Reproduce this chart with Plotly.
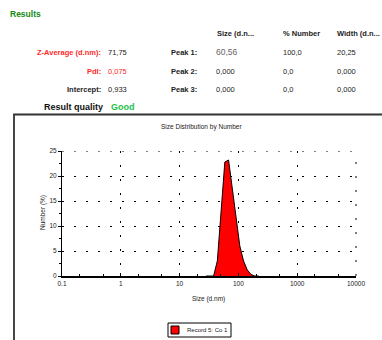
import plotly.graph_objects as go

# ---- data ----
sizes = [28.21, 32.67, 37.84, 43.82, 50.75, 58.77, 68.06, 78.82, 91.28, 105.7, 122.4, 141.8, 164.2, 190.1, 220.2]
number_pct = [0, 0, 0, 3.0, 12.5, 22.8, 23.2, 17.5, 11.0, 6.0, 3.0, 1.2, 0.3, 0, 0]
series_name = "Record 5: Co 1"
x_tickvals = [0.1, 1, 10, 100, 1000, 10000]
x_ticktext = ["0.1", "1", "10", "100", "1000", "10000"]
y_tickvals = [0, 5, 10, 15, 20, 25]

summary_left = [("Z-Average (d.nm):", "71,75", "#ff2a2a", "#222"),
                ("PdI:", "0,075", "#ff2a2a", "#ff2a2a"),
                ("Intercept:", "0,933", "#222", "#222")]
peak_labels = ["Peak 1:", "Peak 2:", "Peak 3:"]
peak_size = ["60,56", "0,000", "0,000"]
peak_number = ["100,0", "0,0", "0,0"]
peak_width = ["20,25", "0,000", "0,000"]
col_headers = ["Size (d.n...", "% Number", "Width (d.n..."]

# ---- geometry helpers (pixel -> paper) ----
W, H = 382, 340
PL, PR, PT, PB = 62, 356, 151, 276
PW, PH = PR - PL, PB - PT
def px(x): return (x - PL) / PW
def py(y): return (PB - y) / PH

FONT = "Liberation Sans, Arial, sans-serif"

fig = go.Figure()
fig.add_trace(go.Scatter(
    x=sizes, y=number_pct, mode="lines", name=series_name,
    fill="tozeroy", fillcolor="#ff0000",
    line=dict(color="#000000", width=1), showlegend=False,
))

ann = []
def text(x, y, s, size=7, color="#222", bold=False, anchor="left", yanchor="middle", angle=0):
    ann.append(dict(x=px(x), y=py(y), xref="paper", yref="paper", text=f"<b>{s}</b>" if bold else s,
                    showarrow=False, xanchor=anchor, yanchor=yanchor, textangle=angle,
                    font=dict(family=FONT, size=size, color=color)))

text(8, 14, "Results", size=8.5, color="#128a12", bold=True)
hx = [215, 281, 335]
for h, x in zip(col_headers, hx):
    text(x, 33, h, size=7.5, color="#222", bold=True)
rows_y = [52, 71, 89]
for (lab, val, lc, vc), y in zip(summary_left, rows_y):
    text(103, y, lab, size=7.5, color=lc, bold=True, anchor="right")
    text(106, y, val, size=7.5, color=vc)
for i, y in enumerate(rows_y):
    text(199, y, peak_labels[i], size=7.5, color="#222", bold=True, anchor="right")
    text(214, y, peak_size[i], size=7.5 if i else 8.5, color="#222" if i else "#666")
    text(281, y, peak_number[i], size=7.5)
    text(335, y, peak_width[i], size=7.5)
text(42, 107, "Result quality", size=9, color="#111", bold=True)
text(109, 107, "Good", size=9, color="#22c24a", bold=True)

text(201, 127, "Size Distribution by Number", size=6.5, color="#222", anchor="center")
text(208, 299, "Size (d.nm)", size=6.5, color="#222", anchor="center")
text(43, 213, "Number (%)", size=6.5, color="#222", anchor="center", angle=-90)

# legend (drawn)
text(185, 330, series_name, size=6, color="#222")

grid_dash = "2px,10px"
shapes = [
    dict(type="path", xref="paper", yref="paper",
         path=f"M {px(14)} {py(345)} L {px(14)} {py(114.5)} L {px(390)} {py(114.5)}",
         line=dict(color="#333", width=1.8)),
    dict(type="rect", xref="paper", yref="paper", x0=px(168), x1=px(231), y0=py(337), y1=py(323),
         line=dict(color="#000", width=1), fillcolor="white"),
    dict(type="rect", xref="paper", yref="paper", x0=px(171), x1=px(179), y0=py(334), y1=py(326),
         line=dict(color="#000", width=1), fillcolor="#ff0000"),
    # grid lines at the range edges (top and right)
    dict(type="line", xref="paper", yref="y", x0=0, x1=1, y0=y_tickvals[-1], y1=y_tickvals[-1],
         line=dict(color="#000", width=1, dash=grid_dash), layer="below"),
    dict(type="line", xref="paper", yref="paper", x0=1, x1=1, y0=0, y1=1,
         line=dict(color="#000", width=1, dash="2px,12px"), layer="below"),
]

fig.update_layout(
    width=W, height=H, margin=dict(l=PL, r=W - PR, t=PT, b=H - PB),
    paper_bgcolor="white", plot_bgcolor="white",
    annotations=ann, shapes=shapes,
    font=dict(family=FONT, size=6.5, color="#222"),
)
fig.update_xaxes(type="log", range=[-1, 4], tickvals=x_tickvals, ticktext=x_ticktext,
                 ticks="inside", ticklen=3, tickcolor="#000", showline=True, linecolor="#000", linewidth=2,
                 showgrid=True, gridcolor="#000", gridwidth=1, griddash="2px,12px",
                 zeroline=False, tickfont=dict(size=6.5),
                 minor=dict(ticks="inside", ticklen=2, tickcolor="#000", showgrid=False))
fig.update_yaxes(range=[0, 25], tickvals=y_tickvals, ticks="outside", ticklen=3, tickcolor="#000",
                 showline=True, linecolor="#000", linewidth=1,
                 showgrid=True, gridcolor="#000", gridwidth=1, griddash=grid_dash,
                 zeroline=False, tickfont=dict(size=6.5),
                 minor=dict(ticks="outside", ticklen=2, tickcolor="#000", dtick=2.5, showgrid=False))

fig.write_html("out.html")
